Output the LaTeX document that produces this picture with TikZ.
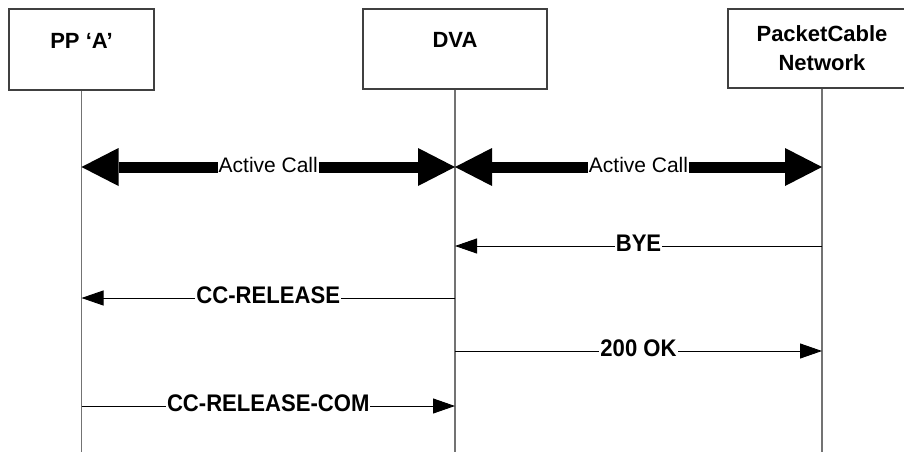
\documentclass[tikz,border=0pt]{standalone}
\usepackage{fontspec}
\setmainfont{Liberation Sans}
\newfontfamily\narrowsans[FakeStretch=0.92]{Liberation Sans}
\usetikzlibrary{arrows.meta}

\tikzset{
  entitybox/.style={draw=black!75, line width=1.1pt, fill=white, inner sep=0pt},
  entitytext/.style={font=\fontsize{22}{29}\selectfont\bfseries, align=center, inner sep=0pt},
  lifeline/.style={draw=black!55, line width=1.2pt},
  callarrow/.style={line width=11pt,
    {Triangle[length=37pt,width=38pt,line width=0pt]}-{Triangle[length=37pt,width=38pt,line width=0pt]}},
  calltext/.style={font=\fontsize{21}{25}\selectfont, fill=white, inner xsep=1pt, inner ysep=2pt, yshift=2.5pt},
  msg/.style={draw=black, line width=0.9pt, -{Triangle[length=22pt,width=15pt]}},
  msgtext/.style={font=\narrowsans\fontsize{24}{28}\selectfont\bfseries, fill=white, inner xsep=1pt, inner ysep=1pt, yshift=2.5pt}
}

\begin{document}
\begin{tikzpicture}[x=1pt, y=-1pt]
  \useasboundingbox (0,0) rectangle (904,452);
  \clip (0,0) rectangle (904,452);

  % entity boxes
  \node[entitybox, minimum width=145pt, minimum height=81pt] (pp)  at (81.5,49.5) {};
  \node[entitybox, minimum width=184pt, minimum height=80pt] (dva) at (455,49)    {};
  \node[entitybox, minimum width=188pt, minimum height=79pt] (net) at (822,48.5)  {};

  \node[entitytext, yshift=9pt] (pptext)  at (pp.center)  {PP ‘A’};
  \node[entitytext, yshift=9pt] (dvatext) at (dva.center) {DVA};
  \node[entitytext] (nettext) at (net.center) {PacketCable\\Network};

  % lifelines down to the bottom edge
  \coordinate (ppend)  at (pp.center  |- 0,452);
  \coordinate (dvaend) at (dva.center |- 0,452);
  \coordinate (netend) at (net.center |- 0,452);
  \draw[lifeline] (pp.south)  -- (ppend);
  \draw[lifeline] (dva.south) -- (dvaend);
  \draw[lifeline] (net.south) -- (netend);

  % points on the lifelines for each exchange
  \foreach \n/\y in {a/167, b/246, c/298, d/351, e/406}{
    \coordinate (pp\n)  at (pp.center  |- 0,\y);
    \coordinate (dva\n) at (dva.center |- 0,\y);
    \coordinate (net\n) at (net.center |- 0,\y);
  }

  % established calls
  \draw[callarrow] (ppa)  -- node[calltext] {Active Call} (dvaa);
  \draw[callarrow] (dvaa) -- node[calltext] {Active Call} (neta);

  % release sequence
  \draw[msg] (netb) -- node[msgtext] {BYE} (dvab);
  \draw[msg] (dvac) -- node[msgtext] {CC-RELEASE} (ppc);
  \draw[msg] (dvad) -- node[msgtext] {200 OK} (netd);
  \draw[msg] (ppe)  -- node[msgtext] {CC-RELEASE-COM} (dvae);
\end{tikzpicture}
\end{document}
